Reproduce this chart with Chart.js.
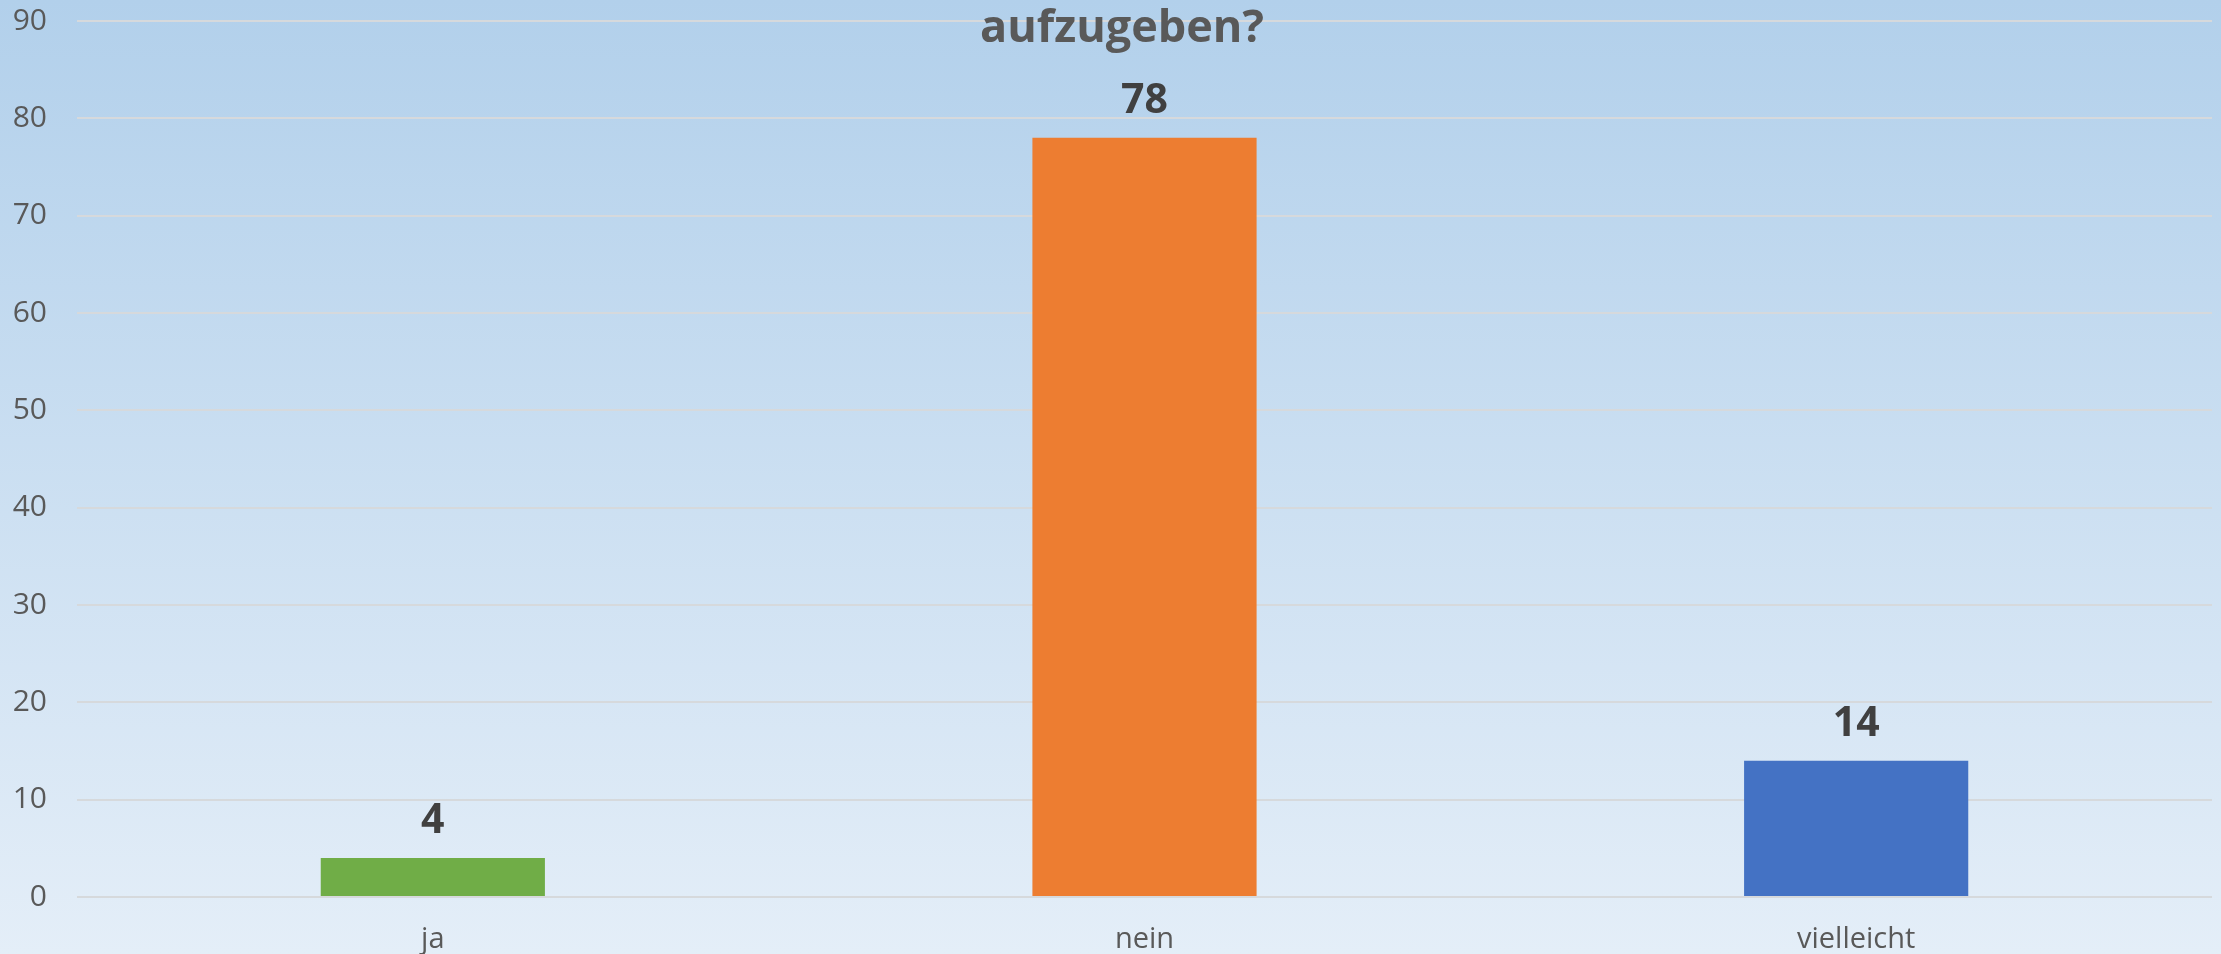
<!DOCTYPE html>
<html>
<head>
<meta charset="utf-8">
<script src="https://cdn.jsdelivr.net/npm/chart.js@4.4.1/dist/chart.umd.min.js"></script>
<style>
  html, body { margin: 0; padding: 0; overflow: hidden; }
  #wrap { width: 2221px; height: 954px; }
</style>
</head>
<body>
<div id="wrap"><canvas id="chart" width="2221" height="954"></canvas></div>
<script>
const categories = ['ja', 'nein', 'vielleicht'];
const answers = [4, 78, 14];
const barColors = ['#70ad47', '#ed7d31', '#4472c4'];
const yTicks = [0, 10, 20, 30, 40, 50, 60, 70, 80, 90];
const titleText = 'aufzugeben?';

// blue gradient behind everything
const background = {
    id: 'background',
    beforeDraw(chart) {
        const ctx = chart.ctx;
        const g = ctx.createLinearGradient(0, 0, 0, chart.height);
        g.addColorStop(0, '#b2d0eb');
        g.addColorStop(1, '#e4eef8');
        ctx.save();
        ctx.fillStyle = g;
        ctx.fillRect(0, 0, chart.width, chart.height);
        ctx.restore();
    }
};

// value above each bar + the (cut off) title on top of the grid
const labels = {
    id: 'labels',
    afterDatasetsDraw(chart) {
        const ctx = chart.ctx;
        const meta = chart.getDatasetMeta(0);
        ctx.save();
        ctx.fillStyle = '#404040';
        ctx.font = 'bold 41px "Open Sans"';
        ctx.textAlign = 'center';
        ctx.textBaseline = 'alphabetic';
        meta.data.forEach((bar, i) => {
            ctx.fillText(String(answers[i]), bar.x, bar.y - 25);
        });
        ctx.fillStyle = '#595959';
        ctx.font = 'bold 45px "Open Sans"';
        ctx.fillText(titleText, 1122, 42);
        ctx.restore();
    }
};

new Chart(document.getElementById('chart').getContext('2d'), {
    type: 'bar',
    data: {
        labels: categories,
        datasets: [{
            data: answers,
            backgroundColor: barColors,
            borderWidth: 0,
            categoryPercentage: 1,
            barPercentage: 0.315
        }]
    },
    options: {
        responsive: false,
        animation: false,
        layout: { padding: { top: 21, right: 9, bottom: 0, left: 0 } },
        plugins: {
            legend: { display: false },
            title: { display: false },
            tooltip: { enabled: false }
        },
        scales: {
            x: {
                grid: { display: false },
                border: { display: false },
                ticks: {
                    color: '#595959',
                    font: { family: 'Open Sans', size: 29 },
                    padding: 17
                },
                afterFit(scale) {
                    scale.height = 57;
                    scale.paddingLeft = 0;
                    scale.paddingRight = 0;
                }
            },
            y: {
                min: 0,
                max: 90,
                afterBuildTicks(scale) {
                    scale.ticks = yTicks.map(v => ({ value: v }));
                },
                grid: {
                    color: '#d6d9dc',
                    lineWidth: 2,
                    drawTicks: false
                },
                border: { display: false },
                ticks: {
                    color: '#595959',
                    font: { family: 'Open Sans', size: 30 },
                    padding: 30
                },
                afterFit(scale) {
                    scale.width = 77;
                    scale.paddingTop = 0;
                    scale.paddingBottom = 0;
                }
            }
        }
    },
    plugins: [background, labels]
});
</script>
</body>
</html>
